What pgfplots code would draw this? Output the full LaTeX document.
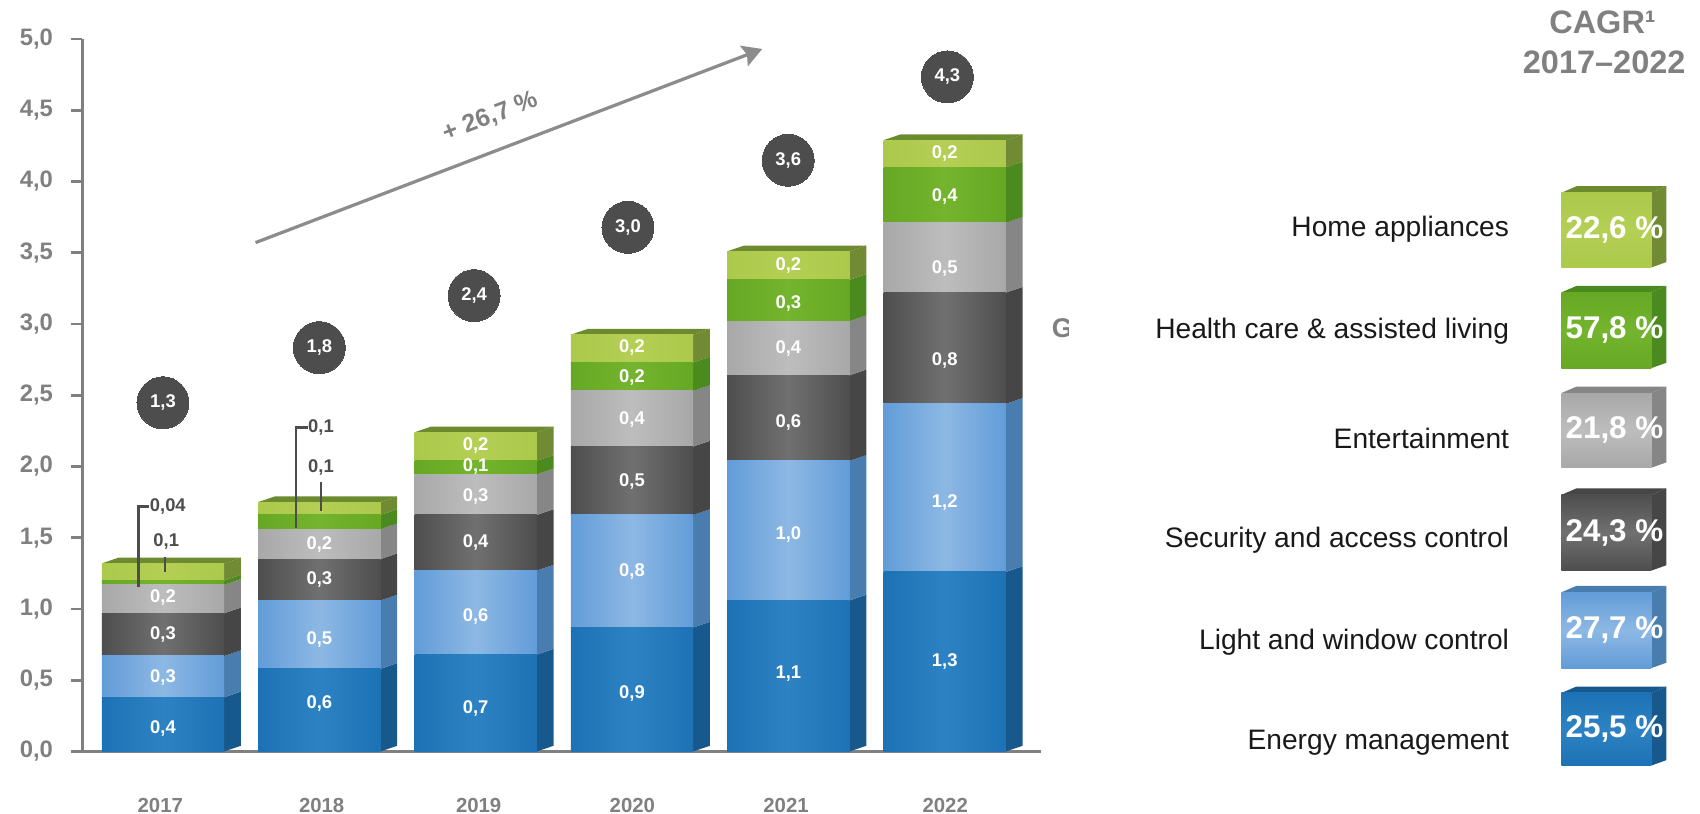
\documentclass[border=0pt]{standalone}
\usepackage{fontspec}
\setmainfont{Liberation Sans}
\usepackage{pgfplots}
\pgfplotsset{compat=1.18}
\usetikzlibrary{arrows.meta}
\newcommand\lab{\bfseries}
% front faces (edge, centre), side faces, top
\definecolor{eE}{HTML}{1C72B4}\definecolor{eM}{HTML}{2C82C2}\definecolor{eS}{HTML}{17598C}
\definecolor{lE}{HTML}{629CD8}\definecolor{lM}{HTML}{8DB8E4}\definecolor{lS}{HTML}{4A7DAF}
\definecolor{sE}{HTML}{4E4E4E}\definecolor{sM}{HTML}{707070}\definecolor{sS}{HTML}{464646}
\definecolor{nE}{HTML}{A8A8A8}\definecolor{nM}{HTML}{BDBDBD}\definecolor{nS}{HTML}{868686}
\definecolor{hE}{HTML}{66A824}\definecolor{hM}{HTML}{74B42E}\definecolor{hS}{HTML}{4A8A1E}
\definecolor{aE}{HTML}{ACC94C}\definecolor{aM}{HTML}{B4CF54}\definecolor{aS}{HTML}{718B35}
\definecolor{aT}{HTML}{6C8A2E}
\definecolor{tx}{HTML}{808080}
\definecolor{dk}{HTML}{4D4D4D}
\definecolor{ax}{HTML}{808080}
\definecolor{ar}{HTML}{8C8C8C}
% side face of one segment
\newcommand\seg[4]{%
  \pgfmathsetmacro\xa{#1+0.3913}\pgfmathsetmacro\xb{#1+0.4983}%
  \pgfmathsetmacro\ya{#2+0.04}\pgfmathsetmacro\yb{#3+0.04}%
  \edef\tmp{\noexpand\addplot[fill=#4,draw=none,forget plot] coordinates {(\xa,#2)(\xb,\ya)(\xb,\yb)(\xa,#3)};}\tmp}
\newcommand\topface[2]{%
  \pgfmathsetmacro\xa{#1+0.3913}\pgfmathsetmacro\xb{#1+0.4983}%
  \pgfmathsetmacro\xc{#1-0.3913}\pgfmathsetmacro\xd{#1-0.2843}\pgfmathsetmacro\ya{#2+0.04}%
  \edef\tmp{\noexpand\addplot[fill=aT,draw=none,forget plot] coordinates {(\xc,#2)(\xd,\ya)(\xb,\ya)(\xa,#2)};}\tmp}
\newcommand\sides[8]{%
  \seg{#1}{#2}{#3}{eS}\seg{#1}{#3}{#4}{lS}\seg{#1}{#4}{#5}{sS}%
  \seg{#1}{#5}{#6}{nS}\seg{#1}{#6}{#7}{hS}\seg{#1}{#7}{#8}{aS}\topface{#1}{#8}}
% one stacked column of front faces, each with its own shading
\newcommand\col[7]{%
  \begin{axis}[base,hide axis,ybar stacked,bar width=56.5pt]
  \addplot[draw=none,left color=eE,right color=eE,middle color=eM] coordinates {(#1,#2)};
  \addplot[draw=none,left color=lE,right color=lE,middle color=lM] coordinates {(#1,#3)};
  \addplot[draw=none,left color=sE,right color=sE,middle color=sM] coordinates {(#1,#4)};
  \addplot[draw=none,left color=nE,right color=nE,middle color=nM] coordinates {(#1,#5)};
  \addplot[draw=none,left color=hE,right color=hE,middle color=hM] coordinates {(#1,#6)};
  \addplot[draw=none,left color=aE,right color=aE,middle color=aM] coordinates {(#1,#7)};
  \end{axis}}
\newcommand\cagr[7]{% top, bottom, edge, centre, side, dark top, text
  \fill[#6] (1440,#1) -- (1454,#1-6) -- (1537,#1-6) -- (1523,#1) -- cycle;
  \fill[#5] (1523,#1) -- (1537,#1-6) -- (1537,#2-5) -- (1523,#2) -- cycle;
  \shade[left color=#3,right color=#3,middle color=#4,shading angle=0] (1440,#1) rectangle (1523,#2);
  \node[text=white,font=\lab\fontsize{14.5}{15}\selectfont,anchor=center,inner sep=0pt] at (1489,{(#1+#2)/2}) {#7};}
\begin{document}
\begin{tikzpicture}
\path[use as bounding box] (0,0) rectangle (785pt,375.87pt);
\pgfplotsset{base/.style={
  at={(38pt,28.87pt)},anchor=south west,scale only axis,width=442.5pt,height=329pt,
  xmin=-0.516,xmax=5.613,ymin=0,ymax=5,clip=false}}
% axes
\begin{axis}[base,
  axis lines*=left,axis line style={ax,line width=1.5pt},
  xtick={-.017,1.015,2.019,3.002,3.985,5.003},xticklabels={2017,2018,2019,2020,2021,2022},
  ytick={0,0.5,1,1.5,2,2.5,3,3.5,4,4.5,5},
  xtick style={draw=none},ytick style={ax,line width=1.3pt},
  tick align=outside,major tick length=5pt,
  xticklabel style={font=\lab\fontsize{9.4}{10}\selectfont,text=tx,yshift=-13pt},
  yticklabel style={font=\lab\fontsize{11}{12}\selectfont,text=tx,xshift=-5pt},
  /pgf/number format/.cd,fixed,fixed zerofill,precision=1,use comma,assume math mode=true]
\end{axis}
% side and top faces
\begin{axis}[base,hide axis]
\sides{0}{0}{.38}{.67}{.97}{1.17}{1.20}{1.32}
\sides{1}{0}{.58}{1.06}{1.35}{1.56}{1.66}{1.75}
\sides{2}{0}{.68}{1.27}{1.66}{1.945}{2.04}{2.24}
\sides{3}{0}{.87}{1.66}{2.14}{2.53}{2.73}{2.925}
\sides{4}{0}{1.06}{2.04}{2.64}{3.02}{3.31}{3.51}
\sides{5}{0}{1.26}{2.44}{3.22}{3.71}{4.10}{4.29}
\end{axis}
% front faces
\col{0}{.38}{.29}{.30}{.20}{.03}{.12}
\col{1}{.58}{.48}{.29}{.21}{.10}{.09}
\col{2}{.68}{.59}{.39}{.285}{.095}{.20}
\col{3}{.87}{.79}{.48}{.39}{.20}{.195}
\col{4}{1.06}{.98}{.60}{.38}{.29}{.20}
\col{5}{1.26}{1.18}{.78}{.49}{.39}{.19}
% labels, totals, leaders, arrow
\begin{axis}[base,hide axis]
\addplot[draw=none,mark=none,point meta=explicit symbolic,nodes near coords,
  every node near coord/.append style={anchor=center,text=white,font=\lab\fontsize{8.5}{9}\selectfont}]
  table[meta=l] {
x y l
0 .16 {0,4}
0 .517 {0,3}
0 .821 {0,3}
0 1.079 {0,2}
1 .334 {0,6}
1 .783 {0,5}
1 1.208 {0,3}
1 1.451 {0,2}
2 .304 {0,7}
2 .95 {0,6}
2 1.467 {0,4}
2 1.786 {0,3}
2 1.998 {0,1}
2 2.15 {0,2}
3 .41 {0,9}
3 1.261 {0,8}
3 1.892 {0,5}
3 2.333 {0,4}
3 2.622 {0,2}
3 2.834 {0,2}
4 .547 {1,1}
4 1.52 {1,0}
4 2.31 {0,6}
4 2.827 {0,4}
4 3.146 {0,3}
4 3.412 {0,2}
5 .631 {1,3}
5 1.748 {1,2}
5 2.743 {0,8}
5 3.389 {0,5}
5 3.898 {0,4}
5 4.195 {0,2}
};
\addplot[dk,line width=1pt] coordinates {(-.157,1.157)(-.157,1.719)(-.087,1.719)};
\addplot[dk,line width=1pt] coordinates {(.013,1.261)(.013,1.368)};
\addplot[dk,line width=1pt] coordinates {(.851,1.567)(.851,2.273)(.925,2.273)};
\addplot[dk,line width=1pt] coordinates {(1.011,1.69)(1.011,1.894)};
\addplot[draw=none,mark=none,point meta=explicit symbolic,nodes near coords,
  every node near coord/.append style={anchor=center,text=dk,font=\lab\fontsize{8.5}{9}\selectfont}]
  table[meta=l] {
x y l
.021 1.474 {0,1}
.031 1.717 {0,04}
1.011 1.991 {0,1}
1.011 2.272 {0,1}
};
\addplot[only marks,mark=*,mark size=12pt,mark options={fill=dk,draw=dk,line width=0pt},
  point meta=explicit symbolic,nodes near coords,
  every node near coord/.append style={anchor=center,text=white,font=\lab\fontsize{8.5}{9}\selectfont}]
  table[meta=l] {
x y l
0 2.447 {1,3}
1 2.834 {1,8}
1.99 3.199 {2,4}
2.974 3.678 {3,0}
3.999 4.149 {3,6}
5.017 4.734 {4,3}
};
\addplot[color=ar,line width=1.5pt,-{Stealth[length=9pt,width=10pt,inset=1.5pt]}] coordinates {(.592,3.571)(3.833,4.93)};
\node[rotate=21,text=tx,font=\lab\fontsize{11.6}{12}\selectfont] at (axis cs:2.095,4.45) {+ 26,7 \%};
\end{axis}
% right-hand key
\begin{scope}[x=.5pt,y=-.5pt,shift={(1pt,375.87pt)}]
\node[text=tx,font=\lab\fontsize{15}{16}\selectfont,inner sep=0pt] at (1478,21) {CAGR¹};
\node[text=tx,font=\lab\fontsize{15}{16}\selectfont,inner sep=0pt] at (1479.5,58) {2017–2022};
\begin{scope}
\clip (960,285) rectangle (985,320);
\node[text=tx,font=\lab\fontsize{12.5}{13}\selectfont,inner sep=0pt,anchor=west] at (969,303) {G};
\end{scope}
\foreach \t/\y in {Home appliances/212,Health care \& assisted living/306,Entertainment/405,Security and access control/499,Light and window control/593,Energy management/686}
  \node[anchor=east,inner sep=0pt,text=black!90,font=\fontsize{13}{15}\selectfont] at (1392,\y) {\t};
\cagr{178}{247}{aE}{aM}{aS}{aT}{22,6 \%}
\cagr{270}{340}{hE}{hM}{hS}{hS}{57,8 \%}
\cagr{363}{432}{nE}{nM}{nS}{nS}{21,8 \%}
\cagr{457}{527}{sE}{sM}{sS}{sS}{24,3 \%}
\cagr{547}{617}{lE}{lM}{lS}{lS}{27,7 \%}
\cagr{640}{707}{eE}{eM}{eS}{eS}{25,5 \%}
\end{scope}
\end{tikzpicture}
\end{document}
